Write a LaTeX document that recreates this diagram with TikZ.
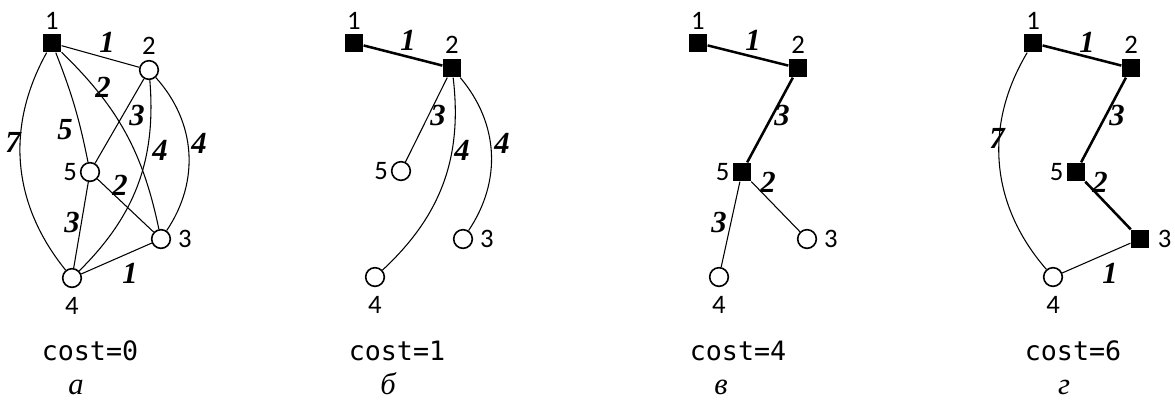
\documentclass[tikz,border=0pt]{standalone}
\usepackage{fontspec}
\setmainfont{Liberation Serif}
\setsansfont{Carlito}
\setmonofont{DejaVu Sans Mono}
\usetikzlibrary{positioning}
\tikzset{
  vtx/.style={circle,draw=black,fill=white,line width=1.2pt,
              minimum size=14pt,inner sep=0pt},
  vtxin/.style={rectangle,fill=black,minimum size=14pt,inner sep=0pt},
  nlbl/.style={font=\sffamily\fontsize{20}{24}\selectfont,inner sep=0pt},
  wlbl/.style={font=\bfseries\itshape\fontsize{23}{27}\selectfont,inner sep=0pt},
  ed/.style={line width=0.8pt},
  edtree/.style={line width=1.9pt},
  costlbl/.style={font=\ttfamily\fontsize{20}{24}\selectfont,anchor=base,inner sep=0pt},
  caplbl/.style={font=\itshape\fontsize{23}{27}\selectfont,anchor=base,inner sep=0pt},
}
\begin{document}
\begin{tikzpicture}[x=0.75pt,y=0.75pt]
  \useasboundingbox (0,0) rectangle (1175,-401);
  % panel a: the whole graph
  \node[vtxin] (a1) at (52,-43) {};
  \node[vtx] (a2) at (149,-70) {};
  \node[vtx] (a5) at (90,-172) {};
  \node[vtx] (a3) at (161,-239) {};
  \node[vtx] (a4) at (72,-278) {};
  \draw[ed] (a1) -- (a2);
  \draw[ed] (a1) to[bend right=34] (a4);
  \draw[ed] (a1) to[bend left=5] (a5);
  \draw[ed] (a1) to[bend left=17] (a3);
  \draw[ed] (a2) -- (a5);
  \draw[ed] (a2) to[bend left=25] (a4);
  \draw[ed] (a2) to[bend left=38] (a3);
  \draw[ed] (a5) -- (a3);
  \draw[ed] (a5) -- (a4);
  \draw[ed] (a4) -- (a3);
  \node[nlbl,above=3pt of a1] (a1l) {1};
  \node[nlbl,above=3.5pt of a2] (a2l) {2};
  \node[nlbl,left=2pt of a5] (a5l) {5};
  \node[nlbl,right=5pt of a3] (a3l) {3};
  \node[nlbl,below=6.5pt of a4] (a4l) {4};
  \node[wlbl] (wa12) at (107,-42) {1};
  \node[wlbl] (wa13) at (103,-87) {2};
  \node[wlbl] (wa25) at (137,-115) {3};
  \node[wlbl] (wa15) at (65,-130) {5};
  \node[wlbl] (wa14) at (13,-142) {7};
  \node[wlbl] (wa24) at (160,-150) {4};
  \node[wlbl] (wa23) at (199,-143) {4};
  \node[wlbl] (wa53) at (120,-185) {2};
  \node[wlbl] (wa54) at (72,-222) {3};
  \node[wlbl] (wa43) at (130,-273) {1};
  \node[costlbl] (costa) at (90,-360) {cost=0};
  \node[caplbl] (capa) at (76,-394) {а};

  % panel b
  \node[vtxin] (b1) at (354,-43) {};
  \node[vtxin] (b2) at (452,-68) {};
  \node[vtx] (b5) at (401,-171) {};
  \node[vtx] (b3) at (463,-239) {};
  \node[vtx] (b4) at (375,-277) {};
  \draw[edtree] (b1) -- (b2);
  \draw[ed] (b2) -- (b5);
  \draw[ed] (b2) to[bend left=27] (b4);
  \draw[ed] (b2) to[bend left=37] (b3);
  \node[nlbl,above=3pt of b1] (b1l) {1};
  \node[nlbl,above=3.5pt of b2] (b2l) {2};
  \node[nlbl,left=2pt of b5] (b5l) {5};
  \node[nlbl,right=5pt of b3] (b3l) {3};
  \node[nlbl,below=6.5pt of b4] (b4l) {4};
  \node[wlbl] (wb12) at (408,-40) {1};
  \node[wlbl] (wb25) at (438,-115) {3};
  \node[wlbl] (wb24) at (462,-150) {4};
  \node[wlbl] (wb23) at (502,-143) {4};
  \node[costlbl] (costb) at (397,-360) {cost=1};
  \node[caplbl] (capb) at (388,-394) {б};

  % panel c
  \node[vtxin] (c1) at (698,-43) {};
  \node[vtxin] (c2) at (798,-68) {};
  \node[vtxin] (c5) at (742,-172) {};
  \node[vtx] (c3) at (807,-239) {};
  \node[vtx] (c4) at (719,-277) {};
  \draw[edtree] (c1) -- (c2);
  \draw[edtree] (c2) -- (c5);
  \draw[ed] (c5) -- (c4);
  \draw[ed] (c5) -- (c3);
  \node[nlbl,above=3pt of c1] (c1l) {1};
  \node[nlbl,above=3.5pt of c2] (c2l) {2};
  \node[nlbl,left=2pt of c5] (c5l) {5};
  \node[nlbl,right=5pt of c3] (c3l) {3};
  \node[nlbl,below=6.5pt of c4] (c4l) {4};
  \node[wlbl] (wc12) at (753,-40) {1};
  \node[wlbl] (wc25) at (782,-115) {3};
  \node[wlbl] (wc53) at (768,-182) {2};
  \node[wlbl] (wc54) at (719,-222) {3};
  \node[costlbl] (costc) at (738,-360) {cost=4};
  \node[caplbl] (capc) at (721,-394) {в};

  % panel d
  \node[vtxin] (d1) at (1033,-43) {};
  \node[vtxin] (d2) at (1131,-68) {};
  \node[vtxin] (d5) at (1076,-172) {};
  \node[vtxin] (d3) at (1140,-239) {};
  \node[vtx] (d4) at (1053,-277) {};
  \draw[edtree] (d1) -- (d2);
  \draw[edtree] (d2) -- (d5);
  \draw[edtree] (d5) -- (d3);
  \draw[ed] (d1) to[bend right=36] (d4);
  \draw[ed] (d4) -- (d3);
  \node[nlbl,above=3pt of d1] (d1l) {1};
  \node[nlbl,above=3.5pt of d2] (d2l) {2};
  \node[nlbl,left=2pt of d5] (d5l) {5};
  \node[nlbl,right=6pt of d3] (d3l) {3};
  \node[nlbl,below=6.5pt of d4] (d4l) {4};
  \node[wlbl] (wd12) at (1087,-42) {1};
  \node[wlbl] (wd25) at (1117,-115) {3};
  \node[wlbl] (wd53) at (1100,-182) {2};
  \node[wlbl] (wd14) at (997,-138) {7};
  \node[wlbl] (wd43) at (1110,-273) {1};
  \node[costlbl] (costd) at (1073,-360) {cost=6};
  \node[caplbl] (capd) at (1064,-394) {г};
\end{tikzpicture}
\end{document}
